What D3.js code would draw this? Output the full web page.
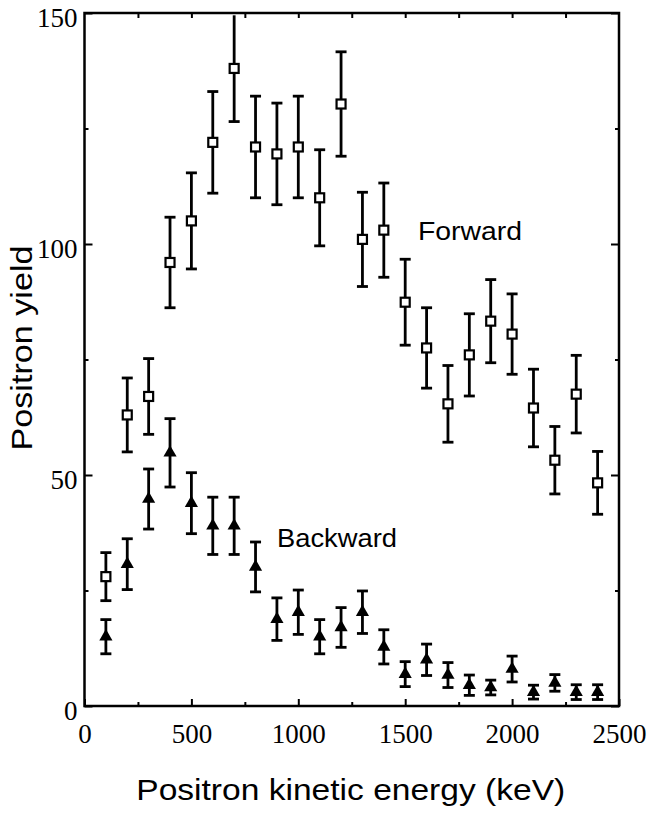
<!DOCTYPE html>
<html>
<head>
<meta charset="utf-8">
<script src="https://cdn.jsdelivr.net/npm/d3@7"></script>
<style>
  body { margin: 0; background: #fff; }
  svg { display: block; }
</style>
</head>
<body>
<svg id="chart"></svg>
<script>
// energies (keV)
const energies = [100, 200, 300, 400, 500, 600, 700, 800, 900, 1000, 1100, 1200,
    1300, 1400, 1500, 1600, 1700, 1800, 1900, 2000, 2100, 2200, 2300, 2400];

// forward yield and its error
const forward = [28, 63, 67, 96, 105, 122, 138, 121, 119.5, 121, 110, 130.3,
    101, 103, 87.4, 77.5, 65.4, 76, 83.3, 80.5, 64.5, 53.2, 67.5, 48.3];
const forwardErr = [5.2, 8, 8.2, 9.8, 10.4, 11, 11.5, 11, 11, 11, 10.4, 11.3,
    10.2, 10.2, 9.3, 8.7, 8.3, 8.9, 9, 8.7, 8.4, 7.3, 8.4, 6.8];

// backward yield and its error
const backward = [15, 30.7, 44.8, 54.8, 43.9, 39, 39, 30.1, 18.8, 20.3, 15, 17,
    20.3, 12.8, 6.9, 10, 6.7, 4.5, 4, 8, 3, 5, 3, 3];
const backwardErr = [3.7, 5.5, 6.5, 7.4, 6.6, 6.2, 6.2, 5.4, 4.6, 4.8, 3.7, 4.3,
    4.6, 3.7, 2.7, 3.4, 2.7, 2.2, 1.6, 2.8, 1.5, 1.8, 1.6, 1.6];

const xMajor = [0, 500, 1000, 1500, 2000, 2500];
const xMinor = [250, 750, 1250, 1750, 2250];
const yMajor = [0, 50, 100, 150];
const yMinor = [25, 75, 125];

const svgWidth = 647, svgHeight = 817;
const margin = { left: 84.5, right: 619, top: 13, bottom: 706 };

const svg = d3.select('#chart')
    .attr("width", svgWidth).attr("height", svgHeight);

const x = d3.scaleLinear().domain([0, 2500]).range([margin.left, margin.right]);
const y = d3.scaleLinear().domain([0, 150]).range([margin.bottom, margin.top]);

const serif = "'Liberation Serif', 'Times New Roman', serif";
const sans = "'Liberation Sans', Arial, Helvetica, sans-serif";

function styleAxis(g) {
    g.select(".domain").remove();
    g.selectAll(".tick line").attr("stroke", "#000").attr("stroke-width", 2);
    g.selectAll("text").attr("fill", "#000")
        .style("font-family", serif).style("font-size", "27px");
}

// left axis
svg.append("g").attr("transform", "translate(" + margin.left + ",0)")
    .call(d3.axisLeft(y).tickValues(yMajor).tickSize(-8).tickPadding(7).tickFormat(d3.format("d")))
    .call(styleAxis)
    .selectAll("text").attr("dy", "0.5em");
svg.append("g").attr("transform", "translate(" + margin.left + ",0)")
    .call(d3.axisLeft(y).tickValues(yMinor).tickSize(-4).tickFormat(""))
    .call(styleAxis);

// right axis
svg.append("g").attr("transform", "translate(" + margin.right + ",0)")
    .call(d3.axisRight(y).tickValues(yMajor).tickSize(-8).tickFormat(""))
    .call(styleAxis);
svg.append("g").attr("transform", "translate(" + margin.right + ",0)")
    .call(d3.axisRight(y).tickValues(yMinor).tickSize(-4).tickFormat(""))
    .call(styleAxis);

// bottom axis
svg.append("g").attr("transform", "translate(0," + margin.bottom + ")")
    .call(d3.axisBottom(x).tickValues(xMajor).tickSize(-7).tickPadding(18).tickFormat(d3.format("d")))
    .call(styleAxis);
svg.append("g").attr("transform", "translate(0," + margin.bottom + ")")
    .call(d3.axisBottom(x).tickValues(xMinor).tickSize(-4).tickFormat(""))
    .call(styleAxis);

// top axis
svg.append("g").attr("transform", "translate(0," + margin.top + ")")
    .call(d3.axisTop(x).tickValues(xMinor.concat([500, 1000, 1500, 2000])).tickSize(-5).tickFormat(""))
    .call(styleAxis);

// frame
svg.append("rect")
    .attr("x", margin.left).attr("y", margin.top)
    .attr("width", margin.right - margin.left).attr("height", margin.bottom - margin.top)
    .attr("fill", "none").attr("stroke", "#000").attr("stroke-width", 2.5);

function drawSeries(vals, errs, cls) {
    const data = energies.map((e, i) => ({ e: e, v: vals[i], err: errs[i] }));
    const g = svg.append("g").attr("class", cls);
    const bars = g.selectAll("g").data(data).enter().append("g");
    bars.append("line")
        .attr("x1", d => x(d.e)).attr("x2", d => x(d.e))
        .attr("y1", d => y(Math.min(150, d.v + d.err)))
        .attr("y2", d => y(d.v - d.err))
        .attr("stroke", "#000").attr("stroke-width", 2.8);
    bars.filter(d => d.v + d.err < 149).append("line")
        .attr("x1", d => x(d.e) - 5.5).attr("x2", d => x(d.e) + 5.5)
        .attr("y1", d => y(d.v + d.err)).attr("y2", d => y(d.v + d.err))
        .attr("stroke", "#000").attr("stroke-width", 2.8);
    bars.append("line")
        .attr("x1", d => x(d.e) - 5.5).attr("x2", d => x(d.e) + 5.5)
        .attr("y1", d => y(d.v - d.err)).attr("y2", d => y(d.v - d.err))
        .attr("stroke", "#000").attr("stroke-width", 2.8);
    return bars;
}

const fBars = drawSeries(forward, forwardErr, "forward");
fBars.append("rect")
    .attr("x", d => x(d.e) - 4.5).attr("y", d => y(d.v) - 4.5)
    .attr("width", 9).attr("height", 9)
    .attr("fill", "#fff").attr("stroke", "#000").attr("stroke-width", 2.2);

const bBars = drawSeries(backward, backwardErr, "backward");
bBars.append("path")
    .attr("transform", d => "translate(" + x(d.e) + "," + y(d.v) + ")")
    .attr("d", d3.symbol().type(d3.symbolTriangle).size(75))
    .attr("fill", "#000");

// series labels
svg.append("text").attr("x", 418).attr("y", 240)
    .attr("textLength", 104).attr("lengthAdjust", "spacingAndGlyphs")
    .style("font-family", sans).style("font-size", "26px").text("Forward");
svg.append("text").attr("x", 277).attr("y", 547)
    .attr("textLength", 120).attr("lengthAdjust", "spacingAndGlyphs")
    .style("font-family", sans).style("font-size", "26px").text("Backward");

// axis titles
svg.append("text")
    .attr("x", (margin.left + margin.right) / 2 - 1).attr("y", 800)
    .attr("text-anchor", "middle")
    .attr("textLength", 429).attr("lengthAdjust", "spacingAndGlyphs")
    .style("font-family", sans).style("font-size", "30px")
    .text("Positron kinetic energy (keV)");

svg.append("text")
    .attr("transform", "translate(32,348) rotate(-90)")
    .attr("text-anchor", "middle")
    .attr("textLength", 205).attr("lengthAdjust", "spacingAndGlyphs")
    .style("font-family", sans).style("font-size", "30px")
    .text("Positron yield");
</script>
</body>
</html>
